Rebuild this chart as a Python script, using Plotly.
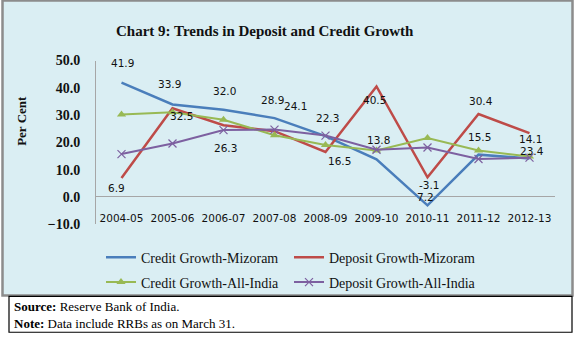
import plotly.graph_objects as go

W, H = 576, 346

years = ["2004-05", "2005-06", "2006-07", "2007-08", "2008-09",
         "2009-10", "2010-11", "2011-12", "2012-13"]
credit_mizoram = [41.9, 33.9, 32.0, 28.9, 22.3, 13.8, -3.1, 15.5, 14.1]
deposit_mizoram = [6.9, 32.5, 26.3, 24.1, 16.5, 40.5, 7.2, 30.4, 23.4]
credit_india = [30.2, 31.0, 28.3, 22.6, 19.0, 17.0, 21.6, 17.0, 14.8]
deposit_india = [15.7, 19.6, 24.5, 24.7, 22.5, 17.3, 18.1, 13.9, 14.4]

# label offsets in pixels (dx, dy-up) for the data labels
credit_lbl_off = [(1, 20), (-3, 20), (1, 19), (-2, 18), (2, 18), (2, 19), (2, 20), (1, 18), (1, 19)]
deposit_lbl_off = [(-5, -10), (9, -8), (2, -23), (21, 25), (14, -9), (-2, -14), (-2, -20), (2, 13), (2, -18)]

SERIF = "Liberation Serif"
SANS = "DejaVu Sans"

def px_x(p):
    return p / W

def px_y(p):
    return 1 - p / H

ymin, ymax = -10, 50
ydom = [px_y(227), px_y(56)]
xdom = [px_x(96), px_x(555)]
zero_pos = ydom[0] + (0 - ymin) / (ymax - ymin) * (ydom[1] - ydom[0])

fig = go.Figure()
fig.add_trace(go.Scatter(x=years, y=credit_mizoram, name="Credit Growth-Mizoram",
                         mode="lines", line=dict(color="#4A7EBB", width=2.5), legend="legend"))
fig.add_trace(go.Scatter(x=years, y=deposit_mizoram, name="Deposit Growth-Mizoram",
                         mode="lines", line=dict(color="#BE4B48", width=2.5), legend="legend"))
fig.add_trace(go.Scatter(x=years, y=credit_india, name="Credit Growth-All-India",
                         mode="lines+markers", line=dict(color="#98B954", width=2),
                         marker=dict(symbol="triangle-up", size=8, color="#98B954"), legend="legend2"))
fig.add_trace(go.Scatter(x=years, y=deposit_india, name="Deposit Growth-All-India",
                         mode="lines+markers", line=dict(color="#7D60A0", width=2),
                         marker=dict(symbol="x-thin", size=8, line=dict(color="#7D60A0", width=1.2)),
                         legend="legend2"))

ann = []
for xv, yv, (dx, dy) in zip(years, credit_mizoram, credit_lbl_off):
    ann.append(dict(x=xv, y=yv, xref="x", yref="y", text=f"{yv:.1f}", showarrow=False,
                    xanchor="center", yanchor="middle",
                    xshift=dx, yshift=dy, font=dict(family=SANS, size=10.5, color="#111")))
for xv, yv, (dx, dy) in zip(years, deposit_mizoram, deposit_lbl_off):
    ann.append(dict(x=xv, y=yv, xref="x", yref="y", text=f"{yv:.1f}", showarrow=False,
                    xanchor="center", yanchor="middle",
                    xshift=dx, yshift=dy, font=dict(family=SANS, size=10.5, color="#111")))

ann.append(dict(x=px_x(265), y=px_y(25), xref="paper", yref="paper", xanchor="center", yanchor="middle",
                text="<b>Chart 9: Trends in Deposit and Credit Growth</b>", showarrow=False,
                font=dict(family=SERIF, size=15, color="#111")))
ann.append(dict(x=px_x(22), y=px_y(119), xref="paper", yref="paper", text="<b>Per Cent</b>",
                xanchor="center", yanchor="middle",
                textangle=-90, showarrow=False, font=dict(family=SERIF, size=13, color="#111")))
ann.append(dict(x=px_x(12), y=px_y(313), xref="paper", yref="paper", xanchor="left", yanchor="middle",
                text="<b>Source:</b> Reserve Bank of India.", showarrow=False,
                font=dict(family=SERIF, size=13, color="#000")))
ann.append(dict(x=px_x(12), y=px_y(331), xref="paper", yref="paper", xanchor="left", yanchor="middle",
                text="<b>Note:</b> Data include RRBs as on March 31.", showarrow=False,
                font=dict(family=SERIF, size=13, color="#000")))

shapes = [
    dict(type="rect", xref="paper", yref="paper", x0=px_x(2.5), x1=px_x(572.5),
         y0=px_y(301.5), y1=1.02, fillcolor="#DAEEF3", line=dict(color="#8C8C8C", width=2.5),
         layer="below"),
    dict(type="rect", xref="paper", yref="paper", x0=px_x(9), x1=px_x(572),
         y0=px_y(340), y1=px_y(302.5), fillcolor="white", line=dict(color="#000", width=1.2),
         layer="below"),
]

leg_common = dict(orientation="h", xanchor="left", yanchor="middle", bgcolor="rgba(0,0,0,0)",
                  font=dict(family=SERIF, size=14, color="#111"), entrywidth=143,
                  entrywidthmode="pixels", traceorder="normal")

fig.update_layout(
    width=W, height=H, margin=dict(l=0, r=0, t=0, b=0),
    paper_bgcolor="white", plot_bgcolor="rgba(0,0,0,0)",
    showlegend=True,
    legend=dict(x=px_x(101), y=px_y(262), **leg_common),
    legend2=dict(x=px_x(101), y=px_y(288), **leg_common),
    xaxis=dict(domain=xdom, type="category", range=[-0.5, len(years) - 0.5],
               anchor="free", position=zero_pos, showline=False, showgrid=False,
               zeroline=False, ticks="", ticklabelstandoff=14,
               tickfont=dict(family=SANS, size=10.5, color="#111")),
    yaxis=dict(domain=ydom, range=[ymin, ymax], dtick=10, tickformat=".1f",
               showgrid=False, zeroline=True, zerolinecolor="#A6A6A6", zerolinewidth=1,
               showline=True, linecolor="#A6A6A6", linewidth=1, ticks="",
               ticklabelstandoff=12, anchor="x",
               tickfont=dict(family=SERIF, size=14, color="#111"),
               tickprefix="<b>", ticksuffix="</b>"),
    annotations=ann, shapes=shapes,
)

fig.write_html("out.html")
